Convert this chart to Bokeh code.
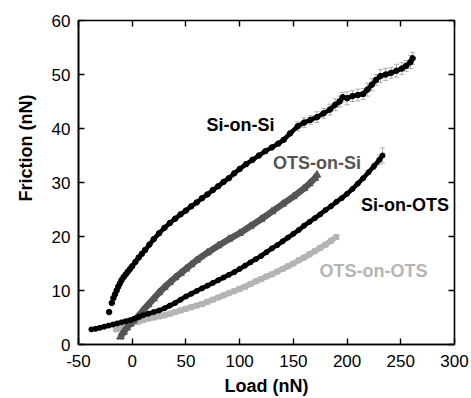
from bokeh.plotting import figure
from bokeh.models import (ColumnDataSource, Label, LinearAxis, FixedTicker, Range1d,
                          Whisker, TeeHead, Title)
from bokeh.embed import file_html
from bokeh.resources import INLINE

# ---------------- data ----------------
si_si_load = [-21.5, -19, -17.5, -16, -14.5, -13, -11.5, -10, -8, -6, -4, -2, 0, 3, 6, 9, 12, 16, 20,
              25, 30, 35, 40, 45, 50, 55, 60, 65, 70, 75, 80, 85, 90, 95, 100, 106, 112, 118, 124,
              130, 136, 141, 147, 154, 160, 166, 172, 178, 184, 189, 193, 196, 200, 205, 210, 215,
              219, 223, 227, 231, 236, 241, 246, 251, 255, 259, 261]
si_si_fric = [6.0, 7.7, 8.6, 9.3, 10.0, 10.7, 11.3, 11.9, 12.5, 13.0, 13.5, 14.0, 14.5, 15.3, 16.1,
              16.8, 17.5, 18.5, 19.5, 20.6, 21.6, 22.5, 23.3, 24.1, 24.8, 25.6, 26.3, 27.1, 27.8,
              28.6, 29.3, 30.1, 30.8, 31.7, 32.5, 33.4, 34.2, 35.0, 35.8, 36.5, 37.2, 37.9, 39.1,
              40.4, 41.1, 41.6, 42.1, 42.8, 43.5, 44.4, 45.0, 45.8, 45.6, 46.0, 46.2, 46.4, 47.2,
              48.1, 49.0, 49.7, 50.0, 50.3, 50.7, 51.1, 51.6, 52.3, 53.0]
si_si_err = [0] * 43 + [0.8, 0.9, 0.8, 1.0, 0.9, 1.0, 1.1, 1.0, 0.9, 1.2, 1.0, 1.1, 1.0,
                        1.2, 1.1, 1.0, 1.2, 1.1, 1.0, 1.2, 1.1, 1.0, 1.2, 1.1, 1.0]

ots_si_load = [-11, -8, -5, -2, 1, 5, 10, 15, 20, 25, 30, 35, 40, 45, 50, 55, 60, 70, 80, 90,
               100, 110, 120, 130, 140, 150, 160, 165, 170, 172]
ots_si_fric = [1.4, 2.3, 3.1, 3.8, 4.4, 5.1, 6.3, 7.4, 8.5, 9.6, 10.6, 11.5, 12.4, 13.2, 14.0,
               14.8, 15.6, 17.0, 18.3, 19.5, 20.6, 21.9, 23.2, 24.6, 26.0, 27.4, 28.9, 29.8,
               30.8, 31.4]

si_ots_load = [-38, -34, -30, -26, -22, -18, -14, -10, -6, -2, 2, 6, 10, 15, 20, 25, 30, 35, 40,
               45, 50, 55, 60, 65, 70, 75, 80, 85, 90, 95, 100, 105, 110, 115, 120, 125, 130,
               135, 140, 145, 150, 155, 160, 165, 170, 175, 180, 185, 190, 195, 200, 205, 210,
               215, 220, 225, 230, 233]
si_ots_fric = [2.8, 2.9, 3.1, 3.3, 3.5, 3.7, 3.9, 4.1, 4.3, 4.5, 4.8, 5.1, 5.4, 5.7, 6.0, 6.3,
               6.7, 7.2, 7.7, 8.3, 8.9, 9.4, 9.9, 10.4, 10.9, 11.4, 11.9, 12.4, 12.9, 13.4, 14.0,
               14.6, 15.2, 15.8, 16.4, 17.1, 17.8, 18.4, 19.1, 19.8, 20.5, 21.2, 22.0, 22.7,
               23.4, 24.1, 24.9, 25.6, 26.4, 27.1, 27.9, 28.8, 29.8, 30.8, 31.9, 33.0, 34.2, 35.0]
si_ots_err = [0] * 55 + [0.6, 0.9, 1.4]

ots_ots_load = [-15, -10, -5, 0, 5, 10, 15, 20, 25, 30, 35, 40, 45, 50, 55, 60, 65, 70, 75, 80,
                85, 90, 95, 100, 105, 110, 115, 120, 125, 130, 135, 140, 145, 150, 155, 160,
                165, 170, 175, 180, 185, 190]
ots_ots_fric = [2.8, 3.1, 3.5, 3.9, 4.2, 4.5, 4.8, 5.0, 5.2, 5.4, 5.7, 6.0, 6.3, 6.6, 6.9, 7.2,
                7.5, 7.9, 8.3, 8.7, 9.1, 9.5, 9.9, 10.3, 10.7, 11.2, 11.7, 12.1, 12.6, 13.0,
                13.5, 14.0, 14.5, 15.0, 15.6, 16.1, 16.7, 17.3, 17.9, 18.5, 19.2, 19.9]

x_ticks = [-50, 0, 50, 100, 150, 200, 250, 300]
x_tick_labels = ["-50", "0", "50", "100", "150", "200", "250", "300"]
y_ticks = [0, 10, 20, 30, 40, 50, 60]
series_names = ["Si-on-Si", "OTS-on-Si", "Si-on-OTS", "OTS-on-OTS"]
x_title = "Load (nN)"
y_title = "Friction (nN)"

# ---------------- styling ----------------
BLACK = "#000000"
DARK = "#555555"
LIGHT = "#b4b4b4"
FONT = "Liberation Sans"

p = figure(width=470, height=398, output_backend="svg", toolbar_location=None,
           x_range=Range1d(-50, 300), y_range=Range1d(0, 60),
           min_border_left=78, min_border_right=16, min_border_top=20, min_border_bottom=54)
p.xgrid.visible = False
p.ygrid.visible = False
p.outline_line_color = BLACK
p.outline_line_width = 1.6
p.background_fill_color = "white"
p.border_fill_color = "white"

xt = FixedTicker(ticks=x_ticks)
yt = FixedTicker(ticks=y_ticks)
for ax in p.xaxis:
    ax.ticker = xt
    ax.major_label_overrides = dict(zip(x_ticks, x_tick_labels))
for ax in p.yaxis:
    ax.ticker = yt

for ax in list(p.xaxis) + list(p.yaxis):
    ax.major_tick_in = 6
    ax.major_tick_out = 0
    ax.minor_tick_line_color = None
    ax.major_tick_line_color = BLACK
    ax.major_tick_line_width = 1.4
    ax.axis_line_color = BLACK
    ax.axis_line_width = 1.6
    ax.major_label_text_font = FONT
    ax.major_label_text_font_size = "17px"
    ax.major_label_text_color = BLACK
    ax.axis_label_text_font = FONT
    ax.axis_label_text_font_size = "18px"
    ax.axis_label_text_font_style = "bold"
    ax.axis_label_text_color = BLACK

p.xaxis.axis_label = x_title
p.xaxis.major_label_standoff = 10
p.xaxis.axis_label_standoff = 6
p.yaxis.major_label_standoff = 8

top = LinearAxis(ticker=xt, major_label_text_color=None, major_label_standoff=0,
                 major_tick_in=6, major_tick_out=0, minor_tick_line_color=None,
                 axis_line_color=None, major_tick_line_width=1.4)
right = LinearAxis(ticker=yt, major_label_text_color=None, major_label_standoff=0,
                   major_tick_in=6, major_tick_out=0, minor_tick_line_color=None,
                   axis_line_color=None, major_tick_line_width=1.4)
p.add_layout(top, "above")
p.add_layout(right, "right")

# y-axis title, placed a little above the frame centre as in the original
p.add_layout(Title(text=y_title, align="left", offset=143, standoff=25,
                   text_font=FONT, text_font_size="18px", text_font_style="bold",
                   text_color=BLACK), "left")

# ---------------- series ----------------
# OTS-on-OTS (light grey squares)
p.line(ots_ots_load, ots_ots_fric, line_color=LIGHT, line_width=5.5)
p.scatter(ots_ots_load, ots_ots_fric, marker="square", size=5, color=LIGHT)

# OTS-on-Si (dark grey triangles)
p.line(ots_si_load, ots_si_fric, line_color=DARK, line_width=6.5)
p.scatter(ots_si_load, ots_si_fric, marker="triangle", size=7.5, color=DARK)

# Si-on-OTS (black circles)
src_so = ColumnDataSource(dict(x=si_ots_load, y=si_ots_fric,
                               up=[f + e for f, e in zip(si_ots_fric, si_ots_err)],
                               lo=[f - e for f, e in zip(si_ots_fric, si_ots_err)]))
p.add_layout(Whisker(source=src_so, base="x", upper="up", lower="lo",
                     line_color="#999999", line_width=0.8,
                     upper_head=TeeHead(size=5, line_color="#999999", line_width=0.8),
                     lower_head=TeeHead(size=5, line_color="#999999", line_width=0.8)))
p.line("x", "y", source=src_so, line_color=BLACK, line_width=4.5)
p.scatter("x", "y", source=src_so, marker="circle", size=5, color=BLACK)

# Si-on-Si (black circles with error bars)
src_ss = ColumnDataSource(dict(x=si_si_load, y=si_si_fric,
                               up=[f + e for f, e in zip(si_si_fric, si_si_err)],
                               lo=[f - e for f, e in zip(si_si_fric, si_si_err)]))
p.add_layout(Whisker(source=src_ss, base="x", upper="up", lower="lo",
                     line_color="#9a9a9a", line_width=0.8,
                     upper_head=TeeHead(size=5, line_color="#9a9a9a", line_width=0.8),
                     lower_head=TeeHead(size=5, line_color="#9a9a9a", line_width=0.8)))
p.line(si_si_load[8:], si_si_fric[8:], line_color=BLACK, line_width=4.5)
p.scatter("x", "y", source=src_ss, marker="circle", size=5.5, color=BLACK)

# ---------------- series labels ----------------
label_pos = [(100.8, 40.6, BLACK), (172, 33.7, DARK), (254, 25.9, BLACK), (224.7, 13.7, LIGHT)]
for name, (lx, ly, col) in zip(series_names, label_pos):
    p.add_layout(Label(x=lx, y=ly, text=name, text_align="center", text_baseline="middle",
                       text_font=FONT, text_font_size="18px", text_font_style="bold",
                       text_color=col))

open("out.html", "w").write(file_html(p, INLINE))
